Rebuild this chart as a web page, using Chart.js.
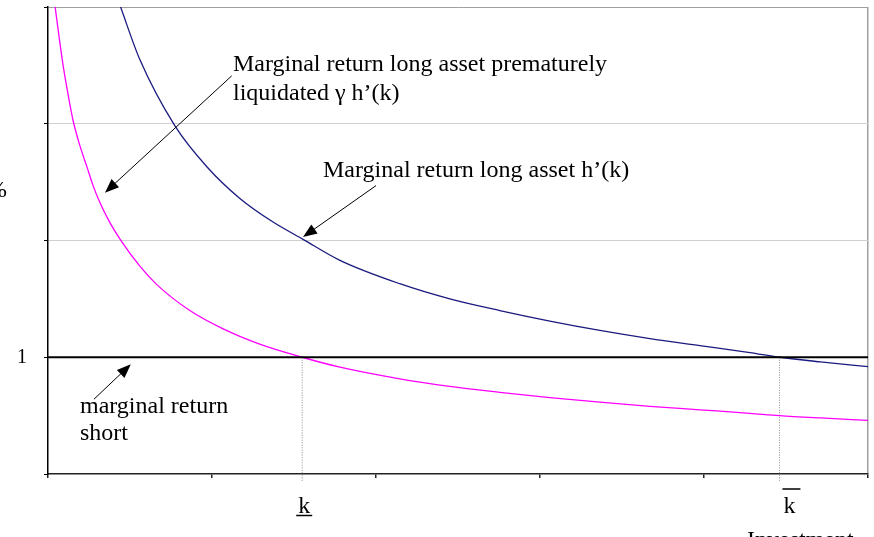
<!DOCTYPE html>
<html lang="en">
<head>
    <meta charset="UTF-8">
    <title>Marginal returns</title>
    <script src="https://cdn.jsdelivr.net/npm/chart.js"></script>
    <style>
        body { margin: 0; background: #fff; }
        canvas { display: block; }
    </style>
</head>
<body>
    <canvas id="returnChart" width="874" height="537"></canvas>

    <script>
        // investment k (0..100) and the marginal returns
        const kLong = [8.8, 11.2, 15.5, 19.4, 23.4, 27.4, 31.1, 35.6, 42.9, 49.0, 55.1, 61.2, 67.3, 73.4, 79.5, 85.6, 89.2, 94.2, 100];
        const longReturn = [4.01, 3.55, 2.98, 2.63, 2.36, 2.16, 2.01, 1.83, 1.63, 1.50, 1.40, 1.31, 1.23, 1.16, 1.10, 1.04, 1.00, 0.96, 0.92];

        const kLiquid = [0.85, 1.8, 2.4, 3.05, 3.9, 4.8, 5.5, 6.3, 7.5, 8.8, 11.2, 13.3, 17.3, 21.3, 25.9, 31.0, 35.6, 42.9, 49.0, 55.1, 61.2, 67.3, 73.4, 79.5, 85.6, 89.2, 94.2, 100];
        const liquidReturn = [4.01, 3.52, 3.27, 3.03, 2.81, 2.62, 2.47, 2.33, 2.16, 2.01, 1.78, 1.62, 1.40, 1.245, 1.11, 1.00, 0.915, 0.815, 0.75, 0.70, 0.655, 0.615, 0.58, 0.55, 0.52, 0.50, 0.48, 0.46];

        const kShort = [0, 100];
        const shortReturn = [1, 1];

        const kMarkers = [31.0, 89.2];          // k and k-bar
        const markerLabels = ['k', 'k'];
        const yTicks = [0, 1, 2, 3, 4];
        const yTickLabels = ['', '1', '', '', ''];

        const serif = '"Liberation Serif", "Times New Roman", serif';

        function pts(xs, ys) {
            return xs.map((x, i) => ({ x: x, y: ys[i] }));
        }

        const markerSets = kMarkers.map(k => ({
            data: [{ x: k, y: 1 }, { x: k, y: -0.07 }],
            borderColor: '#8a8a8a',
            borderWidth: 1,
            borderDash: [1, 1.5],
            pointRadius: 0,
            clip: false
        }));

        // text and arrows, placed in data units
        const notes = [
            { text: 'Marginal return long asset prematurely', x: 22.56, y: 3.45 },
            { text: 'liquidated \u03b3 h\u2019(k)', x: 22.56, y: 3.20 },
            { text: 'Marginal return long asset h\u2019(k)', x: 33.54, y: 2.54 },
            { text: 'marginal return', x: 3.9, y: 0.524 },
            { text: 'short', x: 3.9, y: 0.292 }
        ];
        const arrows = [
            { from: [22.4, 3.41], to: [6.95, 2.41] },
            { from: [40.0, 2.47], to: [31.1, 2.03] },
            { from: [5.6, 0.64], to: [10.1, 0.94] }
        ];

        const notesPlugin = {
            id: 'notes',
            afterDatasetsDraw(chart) {
                const c = chart.ctx;
                const xs = chart.scales.x, ys = chart.scales.y;
                const area = chart.chartArea;
                c.save();
                c.fillStyle = '#000';
                c.strokeStyle = '#000';
                c.font = '24px ' + serif;
                c.textBaseline = 'alphabetic';
                c.textAlign = 'left';
                notes.forEach(n => {
                    c.fillText(n.text, xs.getPixelForValue(n.x), ys.getPixelForValue(n.y));
                });

                arrows.forEach(a => {
                    const x1 = xs.getPixelForValue(a.from[0]), y1 = ys.getPixelForValue(a.from[1]);
                    const x2 = xs.getPixelForValue(a.to[0]), y2 = ys.getPixelForValue(a.to[1]);
                    const ang = Math.atan2(y2 - y1, x2 - x1);
                    const len = 14, half = 5.5;
                    c.lineWidth = 1;
                    c.beginPath();
                    c.moveTo(x1, y1);
                    c.lineTo(x2 - Math.cos(ang) * len * 0.8, y2 - Math.sin(ang) * len * 0.8);
                    c.stroke();
                    c.beginPath();
                    c.moveTo(x2, y2);
                    c.lineTo(x2 - Math.cos(ang) * len - Math.sin(ang) * half, y2 - Math.sin(ang) * len + Math.cos(ang) * half);
                    c.lineTo(x2 - Math.cos(ang) * len + Math.sin(ang) * half, y2 - Math.sin(ang) * len - Math.cos(ang) * half);
                    c.closePath();
                    c.fill();
                });

                // k labels under the axis: underline for k, bar over k-bar
                c.textAlign = 'center';
                const shift = [2, 10];
                kMarkers.forEach((k, i) => {
                    const px = xs.getPixelForValue(k) + shift[i];
                    const base = area.bottom + 39;
                    c.fillText(markerLabels[i], px, base);
                    const w = c.measureText(markerLabels[i]).width;
                    c.lineWidth = 1.5;
                    c.beginPath();
                    if (i === 0) {
                        c.moveTo(px - w / 2 - 2, base + 2.5);
                        c.lineTo(px + w / 2 + 2, base + 2.5);
                    } else {
                        c.moveTo(px - w / 2 - 1, base - 24);
                        c.lineTo(px + w / 2 + 5, base - 24);
                    }
                    c.stroke();
                });

                c.textAlign = 'left';
                c.fillText('Investment', 747, area.bottom + 73);
                c.fillText('%', -13, 197);
                c.restore();
            }
        };

        function noPad(s) {
            s.paddingTop = 0;
            s.paddingBottom = 0;
            s.paddingLeft = 0;
            s.paddingRight = 0;
        }

        const ctx = document.getElementById('returnChart').getContext('2d');
        new Chart(ctx, {
            type: 'line',
            data: {
                datasets: [
                    {
                        data: pts(kShort, shortReturn),
                        borderColor: '#000',
                        borderWidth: 2.2,
                        pointRadius: 0
                    },
                    {
                        data: pts(kLong, longReturn),
                        borderColor: '#1a1a80',
                        borderWidth: 1.3,
                        pointRadius: 0,
                        cubicInterpolationMode: 'monotone'
                    },
                    {
                        data: pts(kLiquid, liquidReturn),
                        borderColor: '#ff00ff',
                        borderWidth: 1.3,
                        pointRadius: 0,
                        cubicInterpolationMode: 'monotone'
                    },
                    ...markerSets
                ]
            },
            options: {
                responsive: false,
                animation: false,
                layout: { padding: { top: 7, right: 6, left: 0, bottom: 0 } },
                plugins: {
                    legend: { display: false },
                    tooltip: { enabled: false }
                },
                scales: {
                    x: {
                        type: 'linear',
                        min: 0,
                        max: 100,
                        afterFit(s) { s.height = 63; noPad(s); },
                        ticks: { stepSize: 20, callback: () => '' },
                        border: { color: '#222', width: 1.5 },
                        grid: {
                            color: c => c.tick.value === 100 ? '#a0a0a0' : 'rgba(0,0,0,0)',
                            lineWidth: 1.5,
                            tickColor: '#222',
                            tickLength: 4
                        }
                    },
                    y: {
                        min: 0,
                        max: 4,
                        afterFit(s) { s.width = 48; noPad(s); },
                        afterBuildTicks(s) { s.ticks = yTicks.map(v => ({ value: v })); },
                        ticks: {
                            callback: (v) => yTickLabels[yTicks.indexOf(v)],
                            color: '#000',
                            padding: 17,
                            font: { family: serif, size: 20 }
                        },
                        border: { color: '#000', width: 1.5 },
                        grid: {
                            color: c => c.tick.value === 0 ? 'rgba(0,0,0,0)' : (c.tick.value === 4 ? '#a0a0a0' : '#cfcfcf'),
                            tickColor: '#000',
                            tickLength: 4
                        }
                    }
                }
            },
            plugins: [notesPlugin]
        });
    </script>
</body>
</html>
